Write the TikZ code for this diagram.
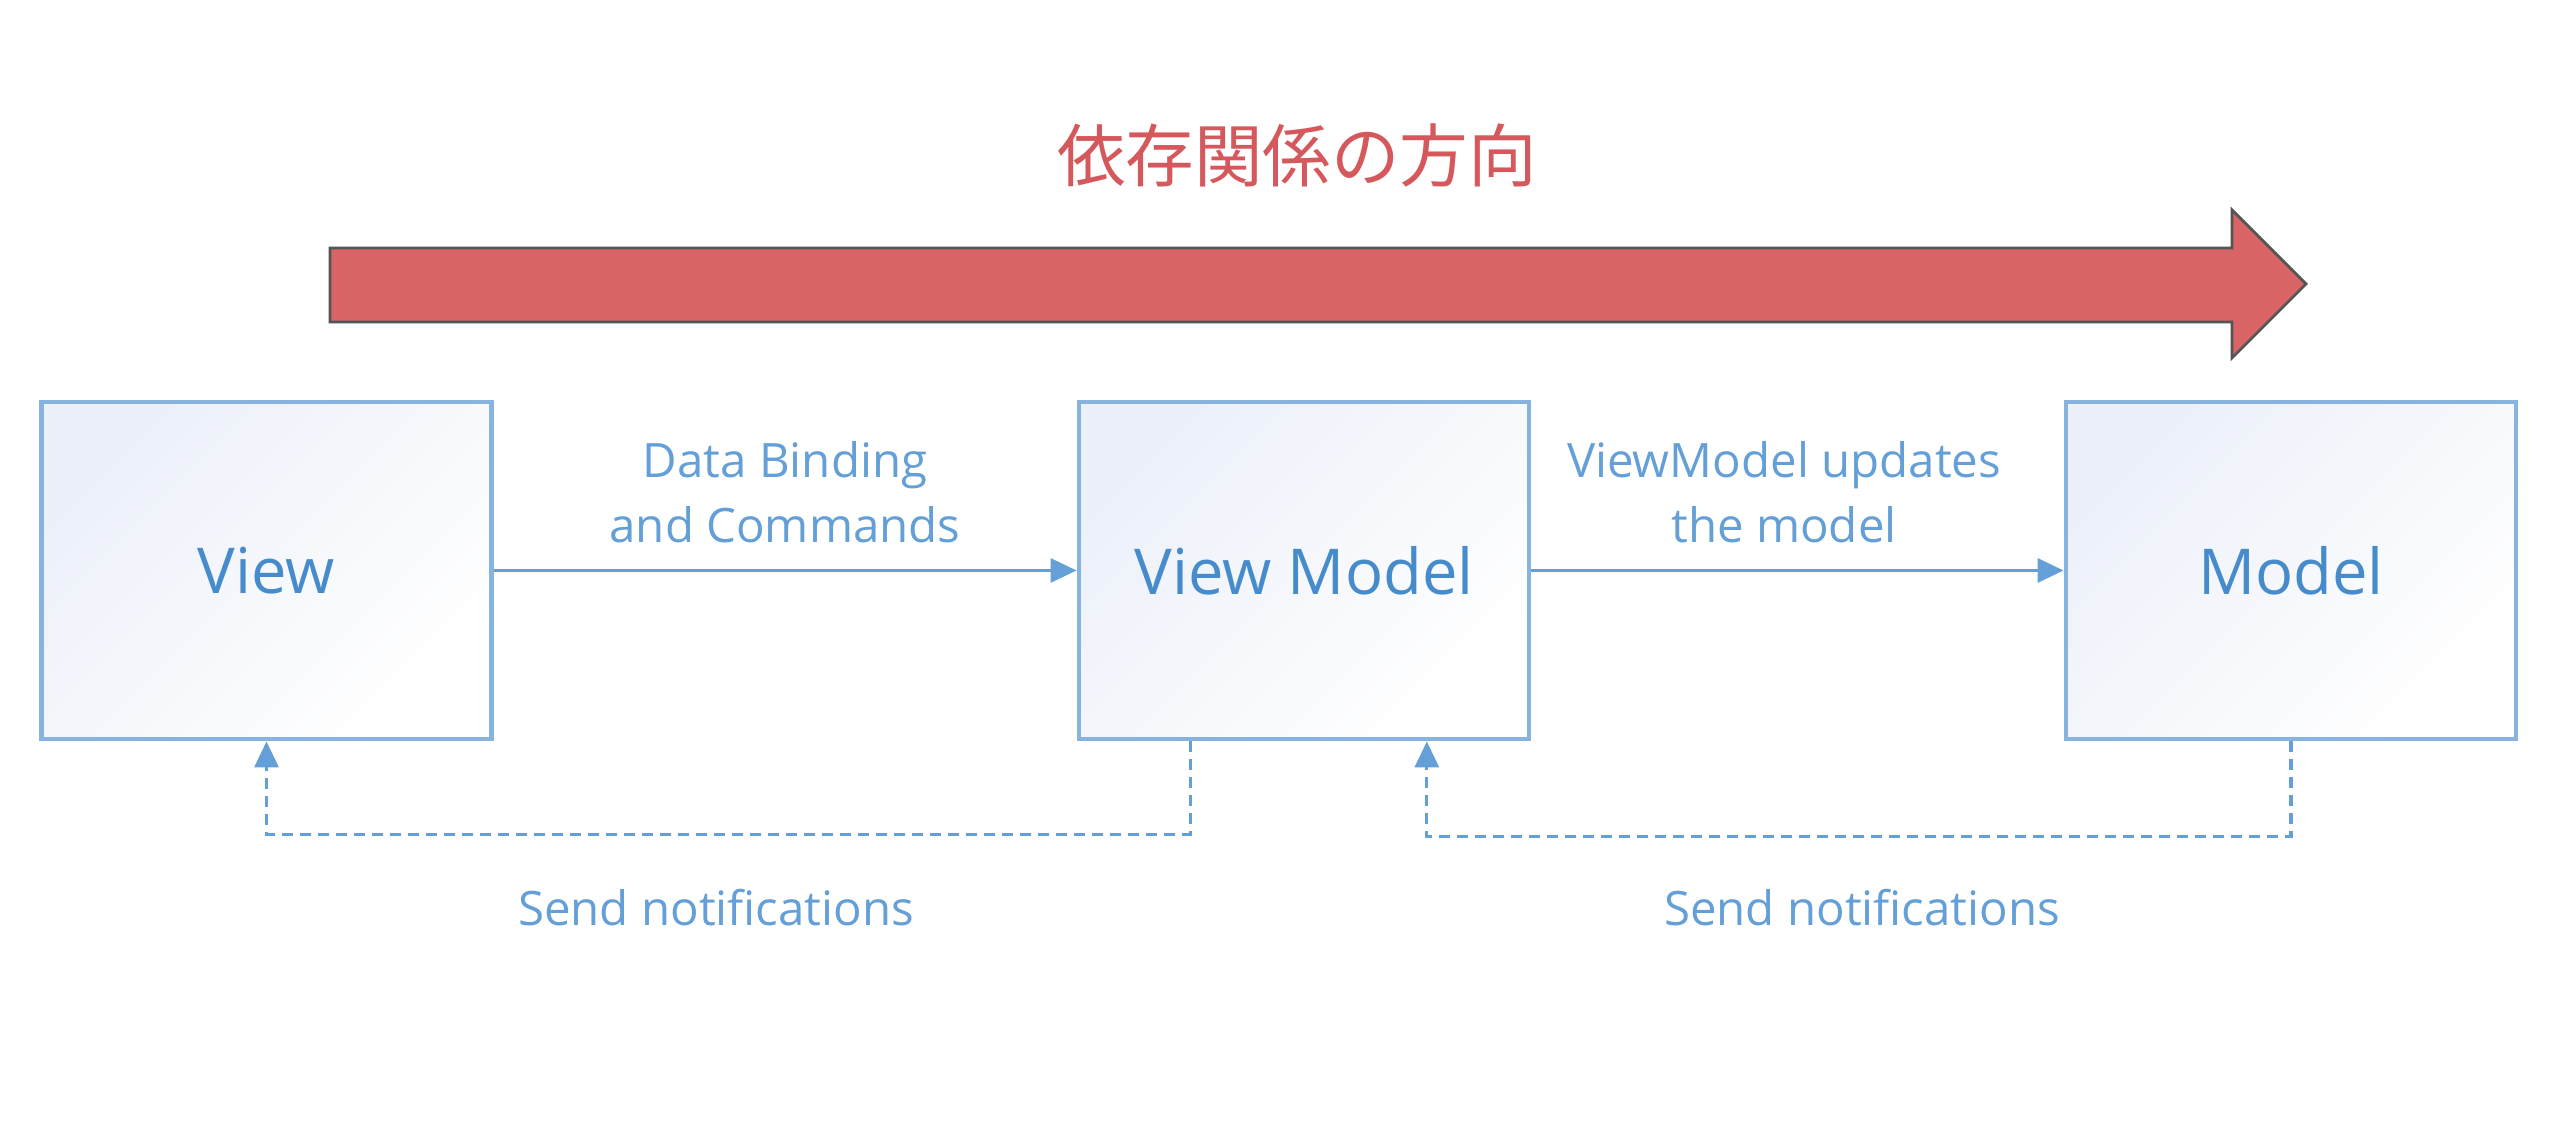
\documentclass[tikz,border=0pt]{standalone}
\usepackage{fontspec}
\setmainfont{Open Sans}
\newfontfamily\jpfont{Noto Sans CJK JP}
\usepackage{xcolor}
\usepackage{tikz}
\usetikzlibrary{arrows.meta, calc, positioning}
\definecolor{mvvmblue}{RGB}{100,160,215}
\definecolor{boxline}{RGB}{135,180,222}
\definecolor{boxtext}{RGB}{70,140,205}
\definecolor{boxtint}{RGB}{236,240,249}
\definecolor{depred}{RGB}{217,100,102}
\definecolor{deptext}{RGB}{212,88,92}
\definecolor{depline}{RGB}{85,85,85}
\tikzstyle{layer} = [rectangle, draw=boxline, line width=1.4pt, top color=boxtint, bottom color=white, shading angle=45, minimum width=4.5cm, minimum height=3.37cm, text=boxtext, font=\fontsize{18}{21}\selectfont, inner sep=0pt]
\tikzstyle{bind} = [line width=0.9pt, draw=mvvmblue, -{Triangle[length=2.6mm,width=2.4mm]}]
\tikzstyle{notify} = [bind, dash pattern=on 1.1mm off 0.7mm]
\tikzstyle{edgetext} = [text=mvvmblue, align=center, font=\fontsize{13.5}{18.4}\selectfont]

\begin{document}
\begin{tikzpicture}[>=Stealth]
\useasboundingbox (0,0) rectangle (25.74,11.30);

\node[text=deptext, font=\jpfont\fontsize{19.5}{22}\selectfont] (deptitle) at (12.97,9.74) {依存関係の方向};

\draw[fill=depred, draw=depline, line width=0.8pt]
(3.30,8.82) -- (22.32,8.82) -- (22.32,9.20) -- (23.06,8.46)
-- (22.32,7.72) -- (22.32,8.08) -- (3.30,8.08) -- cycle;

\node[layer] (view) at (2.665,5.595) {View};
\node[layer] (viewmodel) at (13.04,5.595) {View Model};
\node[layer] (model) at (22.91,5.595) {Model};

\draw[bind] (view.east) -- (viewmodel.west);
\draw[bind] (viewmodel.east) -- (model.west);

\node[edgetext] (bindtext) at (7.85,6.38) {Data Binding\\and Commands};
\node[edgetext] (updatetext) at (17.84,6.38) {ViewModel updates\\the model};

\draw[notify] ($(viewmodel.south west)!0.25!(viewmodel.south east)$) -- ++(0,-0.93) -| (view.south);
\draw[notify] (model.south) -- ++(0,-0.95) -| ($(viewmodel.south west)!0.77!(viewmodel.south east)$);

\node[edgetext] (vmnotify) at (7.16,2.22) {Send notifications};
\node[edgetext] (mnotify) at (18.62,2.22) {Send notifications};
\end{tikzpicture}
\end{document}
